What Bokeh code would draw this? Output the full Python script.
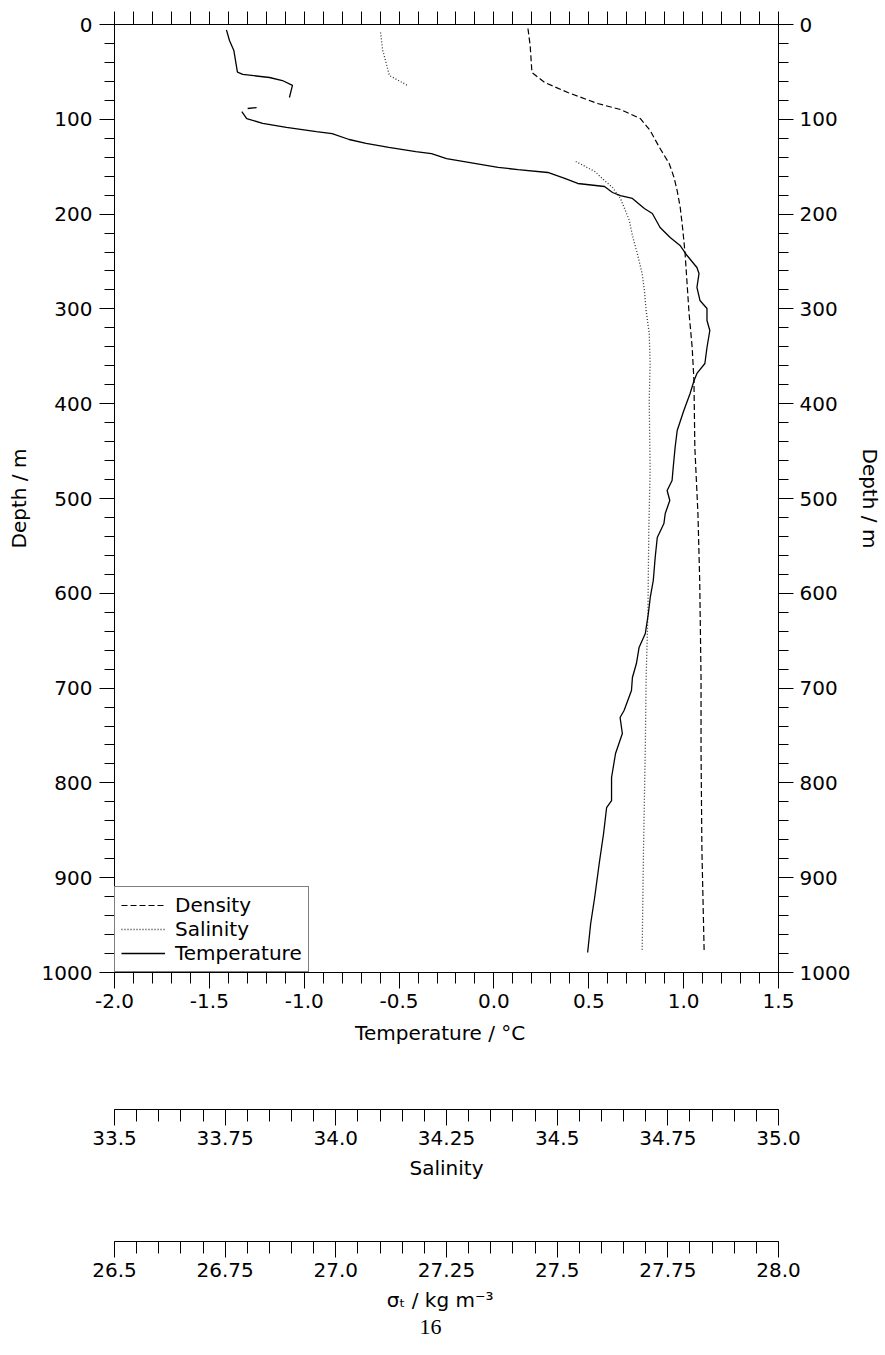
from bokeh.plotting import figure
from bokeh.models import (Range1d, LinearAxis, FixedTicker, PrintfTickFormatter,
                          CustomJSTickFormatter, Legend, LegendItem, Title)
from bokeh.layouts import column
from bokeh.embed import file_html
from bokeh.resources import INLINE

nan = float("nan")

# ---------------- data ----------------
temp_depth = [5.6, 16.9, 27.4, 50.3, 52.7, 55.9, 59.1, 64.3, 77.0, nan,
              87.6, 88.6, nan,
              91.8, 99.2, 104.4, 108.6, 112.9, 115.0, 121.3, 125.5, 129.7, 134.0, 136.1, 141.4,
              150.8, 153.0, 156.1, 162.4, 167.7, 170.9, 177.2, 180.4, 183.5, 194.1, 199.4, 214.1,
              224.7, 233.1, 243.7, 256.3, 262.7, 277.4, 291.1, 299.6, 312.2, 322.8, 340.7, 357.6,
              368.1, 375.5, 389.2, 407.2, 428.3, 446.2, 467.3, 481.0, 491.6, 502.1, 515.8, 526.4,
              541.1, 562.2, 586.5, 604.4, 621.3, 642.4, 657.2, 674.1, 688.8, 702.5, 723.6, 731.0,
              747.9, 769.0, 794.3, 818.6, 826.0, 853.4, 885.0, 920.9, 948.3, 978.9]
temp_c = [-1.410, -1.394, -1.371, -1.352, -1.324, -1.183, -1.115, -1.062, -1.078, nan,
          -1.251, -1.298, nan,
          -1.329, -1.303, -1.219, -1.094, -0.936, -0.853, -0.763, -0.674, -0.554, -0.412, -0.329, -0.250,
          0.022, 0.127, 0.284, 0.373, 0.442, 0.583, 0.625, 0.667, 0.730, 0.793, 0.835, 0.876,
          0.929, 0.981, 1.018, 1.070, 1.081, 1.070, 1.086, 1.123, 1.123, 1.138, 1.123, 1.112,
          1.070, 1.055, 1.034, 1.001, 0.966, 0.955, 0.945, 0.939, 0.913, 0.927, 0.903, 0.896,
          0.861, 0.850, 0.840, 0.824, 0.814, 0.798, 0.765, 0.751, 0.730, 0.725, 0.686, 0.665,
          0.677, 0.641, 0.620, 0.620, 0.594, 0.578, 0.555, 0.531, 0.510, 0.494]

sal_depth = [8.4, 27.4, 35.9, 53.8, 64.3, nan,
             144.5, 155.1, 164.6, 171.9, 183.5, 196.2, 206.8, 222.6, 241.6, 262.7, 280.6,
             301.7, 326.0, 357.6, 396.6, 470.5, 533.8, 621.3, 688.8, 765.8, 871.3, 976.8]
sal_psu = [34.101, 34.106, 34.111, 34.121, 34.162, nan,
           34.542, 34.585, 34.607, 34.625, 34.643, 34.654, 34.663, 34.670, 34.681, 34.692, 34.697,
           34.701, 34.708, 34.710, 34.708, 34.710, 34.707, 34.705, 34.701, 34.699, 34.695, 34.692]

dens_depth = [4.2, 22.2, 50.6, 61.2, 71.7, 83.3, 89.7, 99.2, 111.8, 129.7, 146.6, 161.4, 175.1,
              193.0, 217.3, 241.6, 270.0, 304.9, 340.7, 375.5, 446.2, 515.8, 586.5, 688.8,
              765.8, 871.3, 976.8]
dens_sigma = [27.434, 27.439, 27.443, 27.472, 27.524, 27.591, 27.643, 27.688, 27.710, 27.731,
              27.753, 27.764, 27.771, 27.778, 27.784, 27.789, 27.793, 27.798, 27.805, 27.809,
              27.811, 27.818, 27.822, 27.825, 27.825, 27.827, 27.832]

temp_ticks = [-2.0, -1.5, -1.0, -0.5, 0.0, 0.5, 1.0, 1.5]
sal_ticks = [33.5, 33.75, 34.0, 34.25, 34.5, 34.75, 35.0]
sig_ticks = [26.5, 26.75, 27.0, 27.25, 27.5, 27.75, 28.0]
depth_ticks = [0, 100, 200, 300, 400, 500, 600, 700, 800, 900, 1000]

FONT = "DejaVu Sans"
W = 885
BL, BR = 114, 103


def style_axis(ax, label_size="20px"):
    ax.axis_line_color = "black"
    ax.axis_line_width = 1
    ax.major_tick_line_color = "black"
    ax.minor_tick_line_color = "black"
    ax.major_tick_in = 0
    ax.major_tick_out = 15
    ax.minor_tick_in = 0
    ax.minor_tick_out = 10
    ax.major_label_text_font = FONT
    ax.major_label_text_font_size = label_size
    ax.major_label_text_color = "black"
    ax.axis_label_text_font = FONT
    ax.axis_label_text_font_size = "20px"
    ax.axis_label_text_font_style = "normal"
    ax.axis_label_text_color = "black"


temp_minor = [round(-2.0 + 0.1 * i, 2) for i in range(36)]
depth_minor = list(range(0, 1001, 20))
sal_minor = [round(33.5 + 0.05 * i, 3) for i in range(31)]
sig_minor = [round(26.5 + 0.05 * i, 3) for i in range(31)]

# ---------------- main figure ----------------
p = figure(width=W, height=1060, x_range=Range1d(-2.0, 1.5), y_range=Range1d(1000, 0),
           output_backend="svg", toolbar_location=None, title=None,
           min_border_left=BL, min_border_right=BR, min_border_top=24, min_border_bottom=88,
           x_axis_label="Temperature  /  °C", y_axis_label="Depth / m")
p.extra_x_ranges = {"sal": Range1d(33.5, 35.0), "sig": Range1d(26.5, 28.0)}
p.grid.visible = False
p.outline_line_color = "black"
p.outline_line_width = 1
p.background_fill_color = "white"
p.border_fill_color = "white"

xa = p.xaxis[0]
style_axis(xa)
xa.ticker = FixedTicker(ticks=temp_ticks, minor_ticks=temp_minor)
xa.formatter = PrintfTickFormatter(format="%.1f")
xa.major_tick_out = 16
xa.minor_tick_out = 11
xa.major_label_standoff = 5
xa.axis_label_standoff = 10

ya = p.yaxis[0]
style_axis(ya)
ya.ticker = FixedTicker(ticks=depth_ticks, minor_ticks=depth_minor)
ya.major_label_standoff = 7
ya.axis_label_standoff = 8

# top axis: ticks only, no labels (all drawn as minor ticks)
top = LinearAxis(ticker=FixedTicker(ticks=[], minor_ticks=temp_minor))
style_axis(top)
top.minor_tick_out = 13
top.major_label_standoff = 0
p.add_layout(top, "above")

right = LinearAxis(ticker=FixedTicker(ticks=depth_ticks, minor_ticks=depth_minor),
                   axis_label="Depth / m")
style_axis(right)
right.major_label_standoff = 6
right.axis_label_standoff = 5
p.add_layout(right, "right")

r_dens = p.line(dens_sigma, dens_depth, x_range_name="sig", line_color="black",
                line_width=1.2, line_dash="6 3")
r_sal = p.line(sal_psu, sal_depth, x_range_name="sal", line_color="#333333",
               line_width=1.3, line_dash="1 2")
r_temp = p.line(temp_c, temp_depth, line_color="black", line_width=1.3)

legend = Legend(items=[LegendItem(label="Density", renderers=[r_dens]),
                       LegendItem(label="Salinity", renderers=[r_sal]),
                       LegendItem(label="Temperature", renderers=[r_temp])],
                location="bottom_left", margin=0, padding=6, spacing=0,
                glyph_width=44, glyph_height=24, label_height=24, label_standoff=10,
                label_text_font=FONT, label_text_font_size="20px", label_text_color="black",
                border_line_color="black", border_line_width=1,
                background_fill_color="white", background_fill_alpha=1.0)
p.add_layout(legend)

# ---------------- salinity axis ----------------
ps = figure(width=W, height=134, x_range=Range1d(33.5, 35.0), y_range=Range1d(0, 1),
            output_backend="svg", toolbar_location=None, title=None,
            min_border_left=BL, min_border_right=BR, min_border_top=47, min_border_bottom=85,
            y_axis_location=None, x_axis_label="Salinity")
ps.grid.visible = False
ps.outline_line_color = None
sa = ps.xaxis[0]
style_axis(sa)
sa.ticker = FixedTicker(ticks=sal_ticks, minor_ticks=sal_minor)
sa.formatter = CustomJSTickFormatter(
    code="return (Math.abs(tick*2 - Math.round(tick*2)) < 1e-9) ? tick.toFixed(1) : tick.toFixed(2);")
sa.major_tick_out = 16
sa.minor_tick_out = 12
sa.major_label_standoff = 5
sa.axis_label_standoff = 8

# ---------------- sigma-T axis ----------------
pt = figure(width=W, height=161, x_range=Range1d(26.5, 28.0), y_range=Range1d(0, 1),
            output_backend="svg", toolbar_location=None, title=None,
            min_border_left=BL, min_border_right=BR, min_border_top=45, min_border_bottom=114,
            y_axis_location=None, x_axis_label="σₜ  /  kg m⁻³")
pt.grid.visible = False
pt.outline_line_color = None
ta = pt.xaxis[0]
style_axis(ta)
ta.ticker = FixedTicker(ticks=sig_ticks, minor_ticks=sig_minor)
ta.formatter = CustomJSTickFormatter(
    code="return (Math.abs(tick*2 - Math.round(tick*2)) < 1e-9) ? tick.toFixed(1) : tick.toFixed(2);")
ta.major_tick_out = 16
ta.minor_tick_out = 12
ta.major_label_standoff = 5
ta.axis_label_standoff = 8

page = Title(text="16", align="left", offset=305, standoff=6,
             text_font="Liberation Serif", text_font_size="22px",
             text_font_style="normal", text_color="black")
pt.add_layout(page, "below")

layout = column(p, ps, pt, spacing=0)
open("out.html", "w").write(file_html(layout, INLINE))
